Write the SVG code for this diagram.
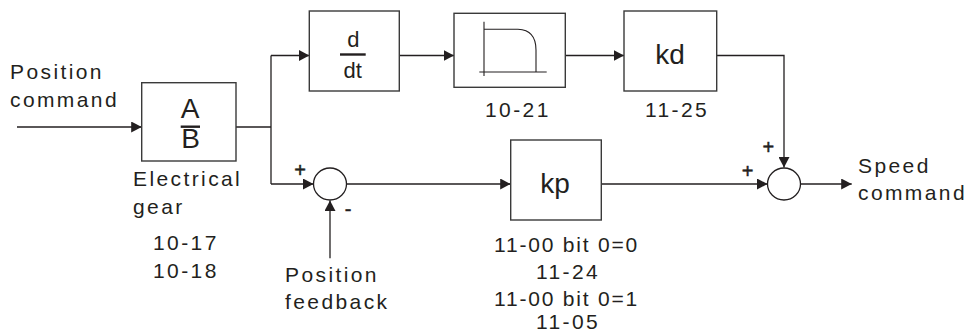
<svg xmlns="http://www.w3.org/2000/svg" width="972" height="332" viewBox="0 0 972 332">
<style>
.box{fill:#fff;stroke:#3a3a3a;stroke-width:1.4}
.ln{fill:none;stroke:#231f20;stroke-width:1.3}
.thin{fill:none;stroke:#231f20;stroke-width:1.1}
.t{font-family:"Liberation Sans",Arial,sans-serif;font-size:21px;fill:#231f20;letter-spacing:2.4px}
.tn{letter-spacing:1.8px}
.big{font-family:"Liberation Sans",Arial,sans-serif;font-size:28px;fill:#231f20}
.mid{font-family:"Liberation Sans",Arial,sans-serif;font-size:22px;fill:#231f20}
.sg{font-family:"Liberation Sans",Arial,sans-serif;font-size:20px;fill:#231f20;stroke:#231f20;stroke-width:0.5}
</style>
<defs>
<marker id="ah" markerUnits="userSpaceOnUse" markerWidth="11" markerHeight="11" refX="10.5" refY="5.5" orient="auto">
<path d="M0,0 L10.5,5.5 L0,11 z" fill="#231f20"/>
</marker>
</defs>
<rect width="972" height="332" fill="#fff"/>

<g id="connectors">
<path class="ln" d="M17,127 H141.7" marker-end="url(#ah)"/>
<path class="ln" d="M236,127 H271"/>
<path class="ln" d="M271,55.5 V184"/>
<path class="ln" d="M271,55.5 H309.3" marker-end="url(#ah)"/>
<path class="ln" d="M271,184 H313.5" marker-end="url(#ah)"/>
<path class="ln" d="M399.3,55.5 H454" marker-end="url(#ah)"/>
<path class="ln" d="M565.3,55.5 H624" marker-end="url(#ah)"/>
<path class="ln" d="M716.7,55.5 H784 V167.5" marker-end="url(#ah)"/>
<path class="ln" d="M346.5,184 H510.7" marker-end="url(#ah)"/>
<path class="ln" d="M601.3,184 H767.5" marker-end="url(#ah)"/>
<path class="ln" d="M800.5,184 H851.7" marker-end="url(#ah)"/>
<path class="ln" d="M330,258.3 V200.5" marker-end="url(#ah)"/>
</g>

<g id="input-label">
<text class="t" x="10" y="79">Position</text>
<text class="t" x="10" y="107">command</text>
</g>

<g id="gear">
<rect class="box" x="141.7" y="82.7" width="94.3" height="78.3"/>
<text class="big" x="190" y="117.7" text-anchor="middle">A</text>
<rect x="180.7" y="125.5" width="19.3" height="2.4" fill="#231f20"/>
<text class="big" x="190.5" y="148" text-anchor="middle">B</text>
<text class="t" x="133" y="186">Electrical</text>
<text class="t" x="133" y="214">gear</text>
<text class="t" x="153" y="250">10-17</text>
<text class="t" x="153" y="277.5">10-18</text>
</g>

<g id="ddt">
<rect class="box" x="309.3" y="11" width="90" height="80"/>
<text class="mid" x="353.3" y="46.7" text-anchor="middle">d</text>
<rect x="340" y="53.3" width="25.7" height="2.4" fill="#231f20"/>
<text class="mid" x="352.8" y="78.3" text-anchor="middle">dt</text>
</g>

<g id="filter">
<rect class="box" x="454" y="13.3" width="111.3" height="74"/>
<path class="thin" d="M484,21.7 V76 M479.3,72 H546.7"/>
<path class="thin" d="M484,29.3 H518 C530,29.8 536,36 536,50 V72"/>
<text class="t" x="485" y="117">10-21</text>
</g>

<g id="kd">
<rect class="box" x="624" y="11" width="92.7" height="80"/>
<text class="big" x="670" y="64.3" text-anchor="middle">kd</text>
<text class="t" x="645" y="116.7">11-25</text>
</g>

<g id="sum1">
<ellipse class="ln" cx="330" cy="184" rx="16.5" ry="16"/>
<text class="sg" x="300" y="177" text-anchor="middle">+</text>
<text class="sg" x="348" y="215.5" text-anchor="middle">-</text>
</g>

<g id="feedback-label">
<text class="t" x="285" y="282">Position</text>
<text class="t" x="285" y="309">feedback</text>
</g>

<g id="kp">
<rect class="box" x="510.7" y="140" width="90.6" height="80"/>
<text class="big" x="555" y="193.3" text-anchor="middle">kp</text>
<text class="t tn" x="494" y="252">11-00 bit 0=0</text>
<text class="t" x="536" y="279.3">11-24</text>
<text class="t tn" x="494" y="306">11-00 bit 0=1</text>
<text class="t" x="536" y="329">11-05</text>
</g>

<g id="sum2">
<ellipse class="ln" cx="784" cy="184" rx="16.5" ry="16"/>
<text class="sg" x="768.3" y="154" text-anchor="middle">+</text>
<text class="sg" x="747.7" y="178" text-anchor="middle">+</text>
</g>

<g id="output-label">
<text class="t" x="858" y="172.7">Speed</text>
<text class="t" x="858" y="200">command</text>
</g>
</svg>
